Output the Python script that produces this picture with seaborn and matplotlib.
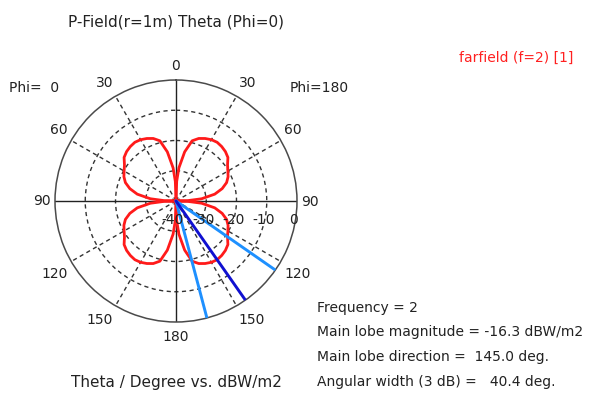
import numpy as np
import pandas as pd
import matplotlib
matplotlib.use("Agg")
import matplotlib.pyplot as plt
import seaborn as sns

# Far-field cut, Phi = 0 / Phi = 180 plane, theta in degrees
theta_deg = [0, 2, 5, 10, 15, 20, 25, 30, 35, 40, 45, 50, 55, 60, 65, 70, 75, 80, 85, 88, 90,
             92, 95, 100, 105, 110, 115, 120, 125, 130, 135, 140, 145, 150, 155, 160, 165, 170,
             175, 178, 180]
# P-field (r = 1 m) in dBW/m2, same on both half-planes
pfield_db = [-40.0, -33.5, -29.0, -23.5, -19.4, -18.0, -17.2, -16.6, -16.3, -16.5, -16.9, -17.6,
             -19.2, -20.2, -21.0, -22.2, -24.2, -27.0, -31.5, -36.0, -40.0,
             -36.0, -31.5, -27.0, -24.2, -22.2, -21.0, -20.2, -19.2, -17.6, -16.9, -16.5, -16.3,
             -16.6, -17.2, -18.0, -19.4, -23.5, -29.0, -33.5, -40.0]

frequency = 2
main_lobe_mag = -16.3
main_lobe_dir = 145.0
angular_width = 40.4

r_min, r_max = -40, 0
ring_values = [-40, -30, -20, -10, 0]
angle_labels = [0, 30, 60, 90, 120, 150, 180]

sns.set_style("white")
plt.rcParams["font.family"] = ["DejaVu Sans"]
text_color = "#222222"

fig = plt.figure(figsize=(6.0, 3.93), dpi=100)
W, H = 600, 393
cx, cy, rad = 176, 201, 121
ax = fig.add_axes([(cx - rad) / W, (H - cy - rad) / H, 2 * rad / W, 2 * rad / H],
                  projection="polar")
ax.set_theta_zero_location("N")
ax.set_theta_direction(-1)
ax.set_ylim(r_min, r_max)

# dashed grid
dash = (0, (3, 2.5))
ax.set_thetagrids([30, 60, 120, 150, 210, 240, 300, 330], labels=[])
ax.set_rgrids([-30, -20, -10], labels=[])
ax.grid(True, linestyle=dash, color="#333333", linewidth=1.0)
ax.spines["polar"].set_color("#4a4a4a")
ax.spines["polar"].set_linewidth(1.1)
ax.tick_params(length=0)
for a in [0, 90, 180, 270]:
    ax.axvline(np.deg2rad(a), color="#222222", linewidth=1.0, zorder=2)

# pattern data: right half = Phi 180, left half = Phi 0
th = np.deg2rad(np.array(theta_deg))
vals = np.clip(np.array(pfield_db), r_min, r_max)
df = pd.concat([
    pd.DataFrame({"ang": th, "val": vals, "side": "Phi=180"}),
    pd.DataFrame({"ang": -th, "val": vals, "side": "Phi=0"}),
])
sns.lineplot(data=df, x="ang", y="val", units="side", estimator=None, sort=False,
             color="#ff1a1a", linewidth=2.0, ax=ax, zorder=4, legend=False)

# main lobe direction and 3 dB beam width
half = angular_width / 2
beam = pd.DataFrame({
    "ang": np.deg2rad([main_lobe_dir - half] * 2 + [main_lobe_dir + half] * 2),
    "val": [r_min, r_max] * 2,
    "edge": ["lo", "lo", "hi", "hi"],
})
sns.lineplot(data=beam, x="ang", y="val", units="edge", estimator=None, sort=False,
             color="#1e90ff", linewidth=2.1, ax=ax, zorder=5, legend=False)
main = pd.DataFrame({"ang": np.deg2rad([main_lobe_dir] * 2), "val": [r_min, r_max]})
sns.lineplot(data=main, x="ang", y="val", estimator=None, sort=False,
             color="#1010d0", linewidth=2.1, ax=ax, zorder=5, legend=False)
ax.set_xlabel("")
ax.set_ylabel("")

fs = 10
# radial scale labels along the 90 deg axis
for rv in ring_values:
    ax.annotate(str(rv), xy=(np.pi / 2, rv), xytext=(-3, -19), textcoords="offset pixels",
                ha="center", va="center", fontsize=fs, color=text_color, zorder=6)

# theta labels: pixel offset (right, down) of the label centre from the rim point
label_offset = {0: (0, -13.5), 30: (11, -13.2), 60: (12.5, -10.5), 90: (13, 0.5),
                120: (16.5, 12.5), 150: (15.5, 14), 180: (0, 14.7)}
for a in angle_labels:
    sides = [1] if a in (0, 180) else [1, -1]
    dx, dy = label_offset[a]
    for s in sides:
        ax.annotate(str(a), xy=(s * np.deg2rad(a), r_max),
                    xytext=(s * dx, -dy), textcoords="offset pixels",
                    ha="center", va="center", fontsize=fs, color=text_color,
                    annotation_clip=False)


def ftext(x, y, s, **kw):
    kw.setdefault("fontsize", fs)
    kw.setdefault("color", text_color)
    fig.text(x / W, 1 - y / H, s, **kw)


ftext(176, 22, "P-Field(r=1m) Theta (Phi=0)", ha="center", va="center", fontsize=11)
ftext(573, 58, "farfield (f=2) [1]", ha="right", va="center", color="#ff2020")
ftext(9, 88, "Phi=  0", ha="left", va="center")
ftext(290, 88, "Phi=180", ha="left", va="center")
ftext(176, 382, "Theta / Degree vs. dBW/m2", ha="center", va="center", fontsize=11)
ftext(317, 308, f"Frequency = {frequency}", ha="left", va="center")
ftext(317, 332, f"Main lobe magnitude = {main_lobe_mag:.1f} dBW/m2", ha="left", va="center")
ftext(317, 357, f"Main lobe direction =  {main_lobe_dir:.1f} deg.", ha="left", va="center")
ftext(317, 382, f"Angular width (3 dB) =   {angular_width:.1f} deg.", ha="left", va="center")

fig.savefig("out.png", dpi=100, facecolor="white")
